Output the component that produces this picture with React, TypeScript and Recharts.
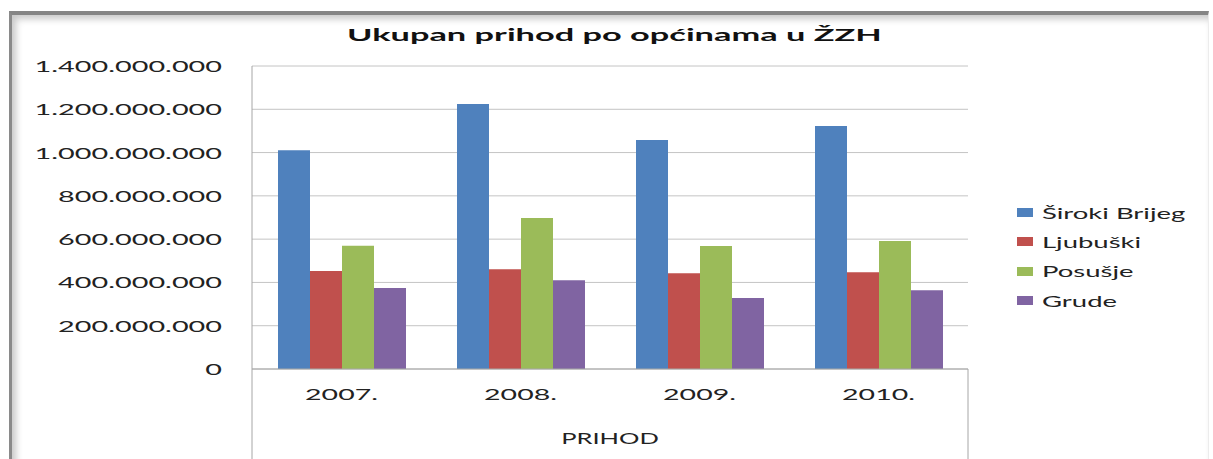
import { BarChart, Bar, XAxis, YAxis, CartesianGrid, Legend } from 'recharts';

const categories = ['2007.', '2008.', '2009.', '2010.'];
const sirokiBrijeg = [1011000000, 1225000000, 1058000000, 1123000000];
const ljubuski = [453000000, 461000000, 442000000, 447000000];
const posusje = [570000000, 698000000, 568000000, 591000000];
const grude = [374000000, 410000000, 328000000, 364000000];
const yTicks = [0, 200000000, 400000000, 600000000, 800000000, 1000000000, 1200000000, 1400000000];
const seriesNames = ['Široki Brijeg', 'Ljubuški', 'Posušje', 'Grude'];
const seriesColors = ['#4F81BD', '#C0504D', '#9BBB59', '#8064A2'];
const seriesKeys = ['siroki', 'ljubuski', 'posusje', 'grude'];
const axisTitle = 'PRIHOD';
const chartTitle = 'Ukupan prihod po općinama u ŽZH';

const data = categories.map((c, i) => ({
  name: c,
  siroki: sirokiBrijeg[i],
  ljubuski: ljubuski[i],
  posusje: posusje[i],
  grude: grude[i],
}));

const FONT = 'Lato, "Open Sans", sans-serif';

const fmt = (v: number) => (v === 0 ? '0' : String(v).replace(/\B(?=(\d{3})+(?!\d))/g, '.'));

const YTick = (props: any) => {
  const { x, y, payload } = props;
  return (
    <g transform={`translate(${x},${y + 6}) scale(1.92,1)`}>
      <text x={0} y={0} textAnchor="end" fontFamily={FONT} fontSize={15} fill="#222">
        {fmt(payload.value)}
      </text>
    </g>
  );
};

const XTick = (props: any) => {
  const { x, payload } = props;
  return (
    <g transform={`translate(${x},400) scale(1.9,1)`}>
      <text x={0} y={0} textAnchor="middle" fontFamily={FONT} fontSize={15} fill="#222">
        {payload.value}
      </text>
    </g>
  );
};

const AxisBox = (props: any) => {
  const { x, y, width, height } = props.viewBox;
  return (
    <g>
      <line x1={x} y1={y} x2={x} y2={y + height} stroke="#a6a6a6" />
      <line x1={x + width} y1={y} x2={x + width} y2={y + height} stroke="#a6a6a6" />
      <g transform={`translate(${x + width / 2},${y + 75}) scale(1.7,1)`}>
        <text x={0} y={0} textAnchor="middle" fontFamily={FONT} fontSize={15} fill="#222">
          {axisTitle}
        </text>
      </g>
    </g>
  );
};

const LegendBox = (props: any) => {
  const items = [...(props.payload || [])].sort(
    (a: any, b: any) => seriesNames.indexOf(a.value) - seriesNames.indexOf(b.value)
  );
  return (
    <div>
      {items.map((e: any) => (
        <div key={e.value} style={{ display: 'flex', alignItems: 'center', height: 29.3 }}>
          <span style={{ width: 16, height: 9, background: e.color, marginRight: 9, flex: 'none' }} />
          <span
            style={{
              display: 'inline-block',
              transform: 'scaleX(1.83)',
              transformOrigin: 'left center',
              fontFamily: FONT,
              fontSize: 15,
              color: '#222',
              whiteSpace: 'nowrap',
            }}
          >
            {e.value}
          </span>
        </div>
      ))}
    </div>
  );
};

export default function App() {
  return (
    <div style={{ position: 'absolute', left: 0, top: 0, width: 1213, height: 459, overflow: 'hidden', background: '#fff' }}>
      <div
        style={{
          position: 'absolute',
          left: 9,
          top: 11,
          width: 1196,
          height: 470,
          borderTop: '4px solid #858585',
          borderLeft: '3px solid #8a8a8a',
          borderRight: '1px solid #ececec',
          boxShadow: 'inset 4px 4px 7px rgba(0,0,0,0.22)',
        }}
      />
      <div
        style={{
          position: 'absolute',
          left: 0,
          top: 25,
          width: 1228,
          textAlign: 'center',
          lineHeight: '20px',
        }}
      >
        <span
          style={{
            display: 'inline-block',
            transform: 'scaleX(2.02)',
            fontFamily: FONT,
            fontWeight: 700,
            fontSize: 17,
            color: '#111',
            whiteSpace: 'pre',
          }}
        >
          {chartTitle}
        </span>
      </div>
      <div style={{ position: 'absolute', left: 0, top: 0 }}>
        <BarChart
          width={1213}
          height={459}
          data={data}
          margin={{ top: 66, right: 245, left: 0, bottom: 0 }}
          barGap={0}
          barSize={32}
        >
          <CartesianGrid horizontal vertical={false} stroke="#c4c4c4" />
          <XAxis
            dataKey="name"
            height={90}
            axisLine={{ stroke: '#a6a6a6' }}
            tickLine={false}
            tick={XTick}
            interval={0}
            label={AxisBox}
          />
          <YAxis
            width={252}
            domain={[0, 1400000000]}
            ticks={yTicks}
            interval={0}
            axisLine={{ stroke: '#a6a6a6' }}
            tickLine={false}
            tickMargin={24}
            tick={YTick}
          />
          <Legend
            layout="horizontal"
            align="center"
            verticalAlign="middle"
            content={LegendBox}
            wrapperStyle={{ position: 'absolute', left: 1017, top: 198, width: 190 }}
          />
          {seriesKeys.map((k, i) => (
            <Bar key={k} dataKey={k} name={seriesNames[i]} fill={seriesColors[i]} isAnimationActive={false} />
          ))}
        </BarChart>
      </div>
    </div>
  );
}
